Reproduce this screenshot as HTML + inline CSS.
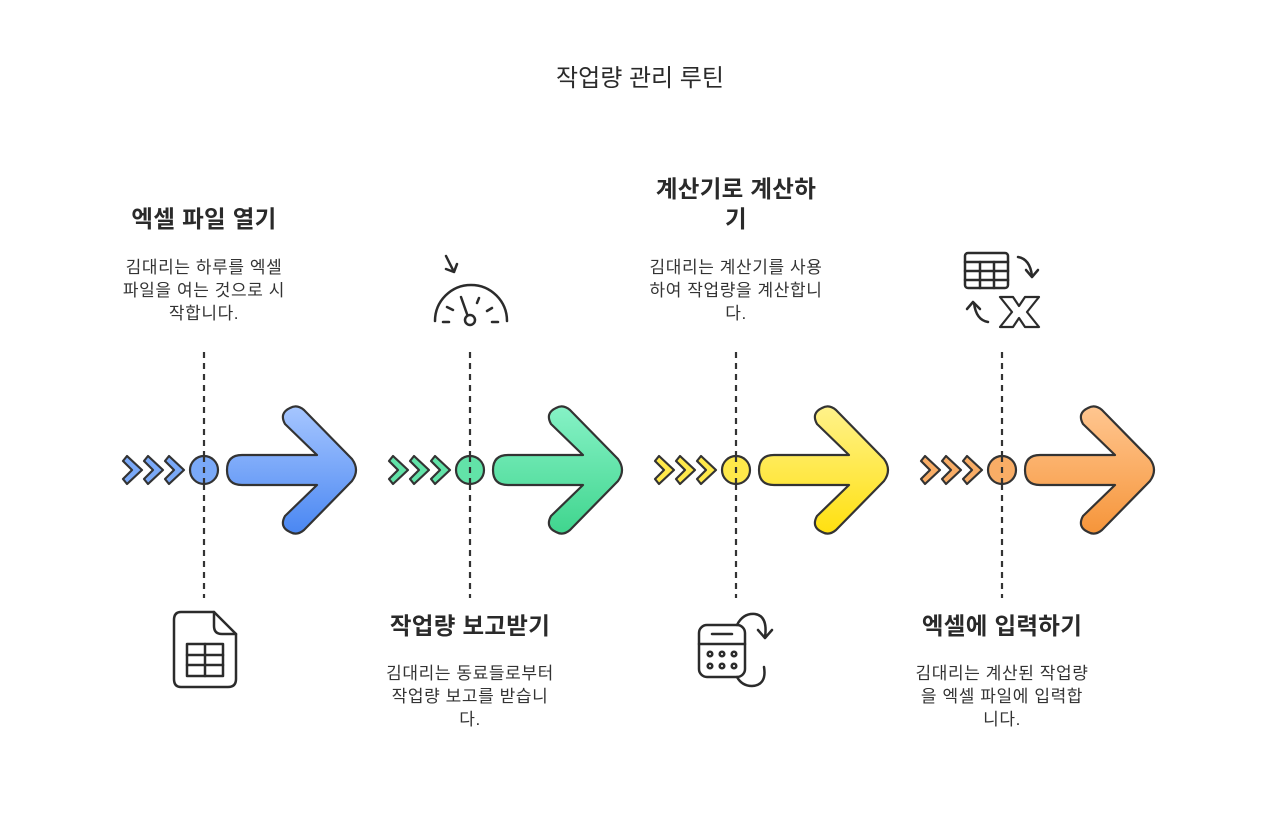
<!DOCTYPE html>
<html><head><meta charset="utf-8"><style>
html,body{margin:0;padding:0;background:#fff;}
svg text{font-family:"Liberation Sans","Noto Sans CJK KR",sans-serif;fill:#2a2a2a;}
.h{font-size:23.5px;font-weight:bold;text-anchor:middle;letter-spacing:0.3px;}
.b{font-size:17px;text-anchor:middle;fill:#333;letter-spacing:0.6px;}
</style></head><body>
<svg width="1280" height="815" viewBox="0 0 1280 815" xmlns="http://www.w3.org/2000/svg">
<defs>
<linearGradient id="g0" x1="0" y1="0" x2="0" y2="1"><stop offset="0" stop-color="#a6c6ff"/><stop offset="1" stop-color="#4a87f2"/></linearGradient>
<linearGradient id="g1" x1="0" y1="0" x2="0" y2="1"><stop offset="0" stop-color="#86f2c6"/><stop offset="1" stop-color="#40d58e"/></linearGradient>
<linearGradient id="g2" x1="0" y1="0" x2="0" y2="1"><stop offset="0" stop-color="#fff28a"/><stop offset="1" stop-color="#ffe010"/></linearGradient>
<linearGradient id="g3" x1="0" y1="0" x2="0" y2="1"><stop offset="0" stop-color="#ffc690"/><stop offset="1" stop-color="#f6953a"/></linearGradient>
</defs>
<text x="640" y="86" style="font-size:24px;text-anchor:middle">작업량 관리 루틴</text>

<g stroke="#333" stroke-width="2.2" stroke-linejoin="round">
<g transform="translate(0,0)">
 <line x1="204" y1="352" x2="204" y2="598" stroke-dasharray="6,5"/>
 <g fill="#7aa9f8">
 <path d="M123,461 L127,456 L142,470 L127,484 L123,479 L132,470 Z"/>
 <path d="M144,461 L148,456 L163,470 L148,484 L144,479 L153,470 Z"/>
 <path d="M165,461 L169,456 L184,470 L169,484 L165,479 L174,470 Z"/>
 <circle cx="204" cy="470" r="14"/>
 </g>
 <path fill="url(#g0)" d="M242,455 L317,455 L285,424 Q279,413 290,408 Q297,404 304,410 L352,459 Q360,470 352,481 L304,530 Q297,536 290,532 Q279,527 285,516 L317,485 L242,485 Q227,485 227,470 Q227,455 242,455 Z"/>
 <line x1="204" y1="456" x2="204" y2="484" stroke-dasharray="6,5"/>
</g>
<g transform="translate(266,0)">
 <line x1="204" y1="352" x2="204" y2="598" stroke-dasharray="6,5"/>
 <g fill="#62e3a8">
 <path d="M123,461 L127,456 L142,470 L127,484 L123,479 L132,470 Z"/>
 <path d="M144,461 L148,456 L163,470 L148,484 L144,479 L153,470 Z"/>
 <path d="M165,461 L169,456 L184,470 L169,484 L165,479 L174,470 Z"/>
 <circle cx="204" cy="470" r="14"/>
 </g>
 <path fill="url(#g1)" d="M242,455 L317,455 L285,424 Q279,413 290,408 Q297,404 304,410 L352,459 Q360,470 352,481 L304,530 Q297,536 290,532 Q279,527 285,516 L317,485 L242,485 Q227,485 227,470 Q227,455 242,455 Z"/>
 <line x1="204" y1="456" x2="204" y2="484" stroke-dasharray="6,5"/>
</g>
<g transform="translate(532,0)">
 <line x1="204" y1="352" x2="204" y2="598" stroke-dasharray="6,5"/>
 <g fill="#ffe94a">
 <path d="M123,461 L127,456 L142,470 L127,484 L123,479 L132,470 Z"/>
 <path d="M144,461 L148,456 L163,470 L148,484 L144,479 L153,470 Z"/>
 <path d="M165,461 L169,456 L184,470 L169,484 L165,479 L174,470 Z"/>
 <circle cx="204" cy="470" r="14"/>
 </g>
 <path fill="url(#g2)" d="M242,455 L317,455 L285,424 Q279,413 290,408 Q297,404 304,410 L352,459 Q360,470 352,481 L304,530 Q297,536 290,532 Q279,527 285,516 L317,485 L242,485 Q227,485 227,470 Q227,455 242,455 Z"/>
 <line x1="204" y1="456" x2="204" y2="484" stroke-dasharray="6,5"/>
</g>
<g transform="translate(798,0)">
 <line x1="204" y1="352" x2="204" y2="598" stroke-dasharray="6,5"/>
 <g fill="#f9ad66">
 <path d="M123,461 L127,456 L142,470 L127,484 L123,479 L132,470 Z"/>
 <path d="M144,461 L148,456 L163,470 L148,484 L144,479 L153,470 Z"/>
 <path d="M165,461 L169,456 L184,470 L169,484 L165,479 L174,470 Z"/>
 <circle cx="204" cy="470" r="14"/>
 </g>
 <path fill="url(#g3)" d="M242,455 L317,455 L285,424 Q279,413 290,408 Q297,404 304,410 L352,459 Q360,470 352,481 L304,530 Q297,536 290,532 Q279,527 285,516 L317,485 L242,485 Q227,485 227,470 Q227,455 242,455 Z"/>
 <line x1="204" y1="456" x2="204" y2="484" stroke-dasharray="6,5"/>
</g>
</g>

<g fill="none" stroke="#2b2b2b" stroke-width="2.5" stroke-linecap="round" stroke-linejoin="round">
 <path d="M181,612 L214,612 L236,634 L236,679 Q236,687 228,687 L181,687 Q174,687 174,679 L174,620 Q174,612 181,612 Z"/>
 <path d="M214,612 L214,626 Q214,634 222,634 L236,634"/>
 <rect x="187" y="644" width="36" height="32"/>
 <line x1="187" y1="655" x2="223" y2="655"/><line x1="187" y1="665" x2="223" y2="665"/><line x1="205" y1="644" x2="205" y2="676"/>
 <path d="M435,321 A36,36 0 0 1 507,321"/>
 <path d="M446,256 L454,272 M446,269 L454,272 L457,264"/>
 <line x1="461" y1="297" x2="467" y2="314"/><circle cx="470" cy="320" r="5"/>
 <line x1="447" y1="307" x2="453" y2="310"/><line x1="479" y1="298" x2="477" y2="303"/><line x1="492" y1="308" x2="487" y2="311"/>
 <line x1="443" y1="322" x2="449" y2="322"/><line x1="492" y1="322" x2="498" y2="322"/>
 <rect x="699" y="625" width="46" height="52" rx="8"/>
 <line x1="699" y1="644" x2="745" y2="644"/><line x1="712" y1="634" x2="732" y2="634"/>
 <circle cx="710" cy="654" r="2.3"/><circle cx="722" cy="654" r="2.3"/><circle cx="734" cy="654" r="2.3"/>
 <circle cx="710" cy="666" r="2.3"/><circle cx="722" cy="666" r="2.3"/><circle cx="734" cy="666" r="2.3"/>
 <path d="M737,625 Q743,613 755,614 Q768,616 765,637"/><path d="M758,630 L765,638 L772,630"/>
 <path d="M764,667 Q767,685 752,686 Q742,686 737,677"/>
 <rect x="965" y="253" width="43" height="35" rx="3"/>
 <line x1="965" y1="262" x2="1008" y2="262"/><line x1="965" y1="271" x2="1008" y2="271"/><line x1="965" y1="280" x2="1008" y2="280"/>
 <line x1="980" y1="262" x2="980" y2="288"/><line x1="994" y1="262" x2="994" y2="288"/>
 <path d="M1018,257 Q1030,259 1032,276"/><path d="M1026,270 L1032,277 L1038,270"/>
 <path d="M988,322 Q976,320 974,303"/><path d="M967,309 L973,302 L980,309"/>
 <path d="M1000,297 L1013,297 L1019,306 L1025,297 L1039,297 L1027,312 L1039,327 L1025,327 L1019,318 L1013,327 L1000,327 L1012,312 Z" stroke-width="2.2"/>
</g>

<text class="h" x="204" y="227">엑셀 파일 열기</text>
<text class="b" x="204" y="273">김대리는 하루를 엑셀</text>
<text class="b" x="204" y="296">파일을 여는 것으로 시</text>
<text class="b" x="204" y="319">작합니다.</text>

<text class="h" x="470" y="634">작업량 보고받기</text>
<text class="b" x="470" y="679">김대리는 동료들로부터</text>
<text class="b" x="470" y="702">작업량 보고를 받습니</text>
<text class="b" x="470" y="725">다.</text>

<text class="h" x="736" y="197">계산기로 계산하</text>
<text class="h" x="736" y="227">기</text>
<text class="b" x="736" y="273">김대리는 계산기를 사용</text>
<text class="b" x="736" y="296">하여 작업량을 계산합니</text>
<text class="b" x="736" y="319">다.</text>

<text class="h" x="1002" y="634">엑셀에 입력하기</text>
<text class="b" x="1002" y="679">김대리는 계산된 작업량</text>
<text class="b" x="1002" y="702">을 엑셀 파일에 입력합</text>
<text class="b" x="1002" y="725">니다.</text>
</svg>
</body></html>
